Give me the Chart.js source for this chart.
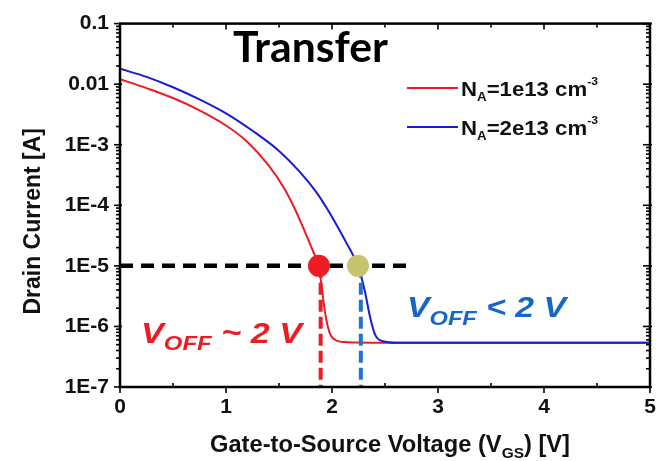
<!DOCTYPE html>
<html>
<head>
<meta charset="utf-8">
<script src="https://cdn.jsdelivr.net/npm/chart.js@4.4.1/dist/chart.umd.min.js"></script>
<style>
  html, body { margin: 0; padding: 0; background: #fff; }
  #wrap { width: 664px; height: 461px; position: relative; }
</style>
</head>
<body>
<div id="wrap"><canvas id="c" width="664" height="461"></canvas></div>
<script>
// Transfer characteristics: drain current vs gate-to-source voltage
const vgsLow  = [0, 0.25, 0.5, 0.75, 1.0, 1.2, 1.4, 1.55, 1.65, 1.72, 1.78, 1.83, 1.877, 1.90, 1.93, 1.96, 1.99, 2.04, 2.14, 2.5, 5];
const idLow   = [1.21e-2, 8.6e-3, 5.9e-3, 3.7e-3, 2.08e-3, 1.12e-3, 4.6e-4, 1.9e-4, 8.7e-5, 4.6e-5, 2.6e-5, 1.6e-5, 1.0e-5, 5.0e-6, 1.9e-6, 1.0e-6, 7.0e-7, 5.9e-7, 5.5e-7, 5.4e-7, 5.4e-7];

const vgsHigh = [0, 0.25, 0.5, 0.75, 1.0, 1.25, 1.5, 1.7, 1.85, 1.95, 2.05, 2.15, 2.2, 2.245, 2.31, 2.36, 2.41, 2.48, 2.6, 5];
const idHigh  = [1.8e-2, 1.32e-2, 8.9e-3, 5.6e-3, 3.3e-3, 1.7e-3, 7.9e-4, 3.5e-4, 1.67e-4, 9.0e-5, 4.5e-5, 2.16e-5, 1.48e-5, 1.0e-5, 3.8e-6, 1.41e-6, 7.1e-7, 5.7e-7, 5.4e-7, 5.4e-7];

// Off-state criterion and extracted off voltages
const criterionCurrent = 1e-5;
const criterionRange   = [0, 2.74];
const crossVgs         = [1.877, 2.245];
const voffDropVgs      = [1.893, 2.272];
const axisFloor        = 1e-7;

// Axis ticks
const xTicks       = [0, 1, 2, 3, 4, 5];
const xMinorTicks  = [0.5, 1.5, 2.5, 3.5, 4.5];
const yTickValues  = [1e-1, 1e-2, 1e-3, 1e-4, 1e-5, 1e-6, 1e-7];
const yTickLabels  = ['0.1', '0.01', '1E-3', '1E-4', '1E-5', '1E-6', '1E-7'];

const FONT = "'Liberation Sans', Arial, sans-serif";
const RED = '#ec1c24';
const BLUE = '#1a1ad6';
const DASH_BLUE = '#1f74cf';
const TEXT_BLUE = '#1768c6';
const OLIVE = '#c7c46c';

const pts = (xs, ys) => xs.map((v, i) => ({ x: v, y: ys[i] }));

// Draws a run of text pieces (with sub/superscripts) fitted to a target width
function drawRich(ctx, parts, x, baseline, width, color) {
  ctx.save();
  ctx.fillStyle = color;
  ctx.textBaseline = 'alphabetic';
  ctx.textAlign = 'left';
  let total = 0;
  for (const p of parts) { ctx.font = p.font; total += ctx.measureText(p.t).width + (p.gap || 0); }
  const sx = width ? width / total : 1;
  ctx.translate(x, baseline);
  ctx.scale(sx, 1);
  let cx = 0;
  for (const p of parts) {
    ctx.font = p.font;
    ctx.fillText(p.t, cx, p.dy || 0);
    cx += ctx.measureText(p.t).width + (p.gap || 0);
  }
  ctx.restore();
}

const decorations = {
  id: 'decorations',
  afterDraw(chart) {
    const { ctx, chartArea: a, scales: { x, y } } = chart;
    const seg = (x1, y1, x2, y2) => { ctx.beginPath(); ctx.moveTo(x1, y1); ctx.lineTo(x2, y2); ctx.stroke(); };
    ctx.save();
    ctx.strokeStyle = '#000';
    ctx.lineWidth = 1.6;
    for (const v of xTicks) {
      const px = x.getPixelForValue(v);
      seg(px, a.bottom, px, a.bottom + 6);
      seg(px, a.top, px, a.top + 6);
    }
    for (const v of xMinorTicks) {
      const px = x.getPixelForValue(v);
      seg(px, a.bottom, px, a.bottom - 4);
      seg(px, a.top, px, a.top + 4);
    }
    for (const v of yTickValues) {
      const py = y.getPixelForValue(v);
      seg(a.left - 6, py, a.left + 2, py);
      seg(a.right - 7, py, a.right + 2, py);
      if (v <= axisFloor) continue;
      for (let k = 2; k <= 9; k++) {
        const pm = y.getPixelForValue(v * k / 10);
        seg(a.left - 4, pm, a.left, pm);
        seg(a.right - 4, pm, a.right, pm);
      }
    }
    ctx.lineWidth = 2.5;
    ctx.strokeRect(a.left, a.top, a.right - a.left, a.bottom - a.top);
    ctx.restore();

    // axis titles
    const bold23 = 'bold 23px ' + FONT;
    const bold15 = 'bold 15px ' + FONT;
    ctx.save();
    ctx.fillStyle = '#111';
    ctx.font = bold23;
    ctx.translate(40, (a.top + a.bottom) / 2 + 16);
    ctx.rotate(-Math.PI / 2);
    ctx.textAlign = 'center';
    ctx.textBaseline = 'alphabetic';
    ctx.fillText('Drain Current [A]', 0, 0);
    ctx.restore();

    drawRich(ctx, [
      { t: 'Gate-to-Source Voltage (V', font: bold23 },
      { t: 'GS', font: bold15, dy: 6 },
      { t: ') [V]', font: bold23 }
    ], 210, 452, 360, '#111');

    // panel title
    drawRich(ctx, [{ t: 'Transfer', font: 'bold 42px Lato, ' + FONT }], 233, 62, 155, '#000');

    // legend
    const leg = [
      { color: RED, y: 88, label: '1e13' },
      { color: BLUE, y: 127, label: '2e13' }
    ];
    for (const l of leg) {
      ctx.save();
      ctx.strokeStyle = l.color;
      ctx.lineWidth = 2.2;
      seg(407, l.y, 458, l.y);
      ctx.restore();
      drawRich(ctx, [
        { t: 'N', font: 'bold 20px ' + FONT },
        { t: 'A', font: 'bold 12px ' + FONT, dy: 5 },
        { t: '=' + l.label + ' cm', font: 'bold 20px ' + FONT },
        { t: '-3', font: 'bold 11px ' + FONT, dy: -11 }
      ], 461, l.y + 8, 137, '#111');
    }

    // off-voltage annotations
    const bi29 = 'italic bold 30px ' + FONT;
    const bi20 = 'italic bold 21px ' + FONT;
    drawRich(ctx, [
      { t: 'V', font: bi29 },
      { t: 'OFF', font: bi20, dy: 7 },
      { t: ' ~ 2 V', font: bi29 }
    ], 141, 343, 161, RED);
    drawRich(ctx, [
      { t: 'V', font: bi29 },
      { t: 'OFF', font: bi20, dy: 8 },
      { t: ' < 2 V', font: bi29 }
    ], 407, 317, 159, TEXT_BLUE);
  }
};

const ctxEl = document.getElementById('c');
new Chart(ctxEl, {
  type: 'line',
  data: {
    datasets: [
      {
        label: 'criterion',
        data: pts(criterionRange, criterionRange.map(() => criterionCurrent)),
        borderColor: '#000', borderWidth: 4.5, borderDash: [13, 8],
        pointRadius: 0, order: 3
      },
      {
        label: 'VOFF 1e13',
        data: pts([voffDropVgs[0], voffDropVgs[0]], [criterionCurrent, axisFloor]),
        borderColor: RED, borderWidth: 4, borderDash: [12, 5],
        pointRadius: 0, order: 2
      },
      {
        label: 'VOFF 2e13',
        data: pts([voffDropVgs[1], voffDropVgs[1]], [criterionCurrent, axisFloor]),
        borderColor: DASH_BLUE, borderWidth: 4, borderDash: [12, 5],
        pointRadius: 0, order: 2
      },
      {
        label: 'NA=1e13 cm-3',
        data: pts(vgsLow, idLow),
        borderColor: RED, borderWidth: 2, pointRadius: 0,
        cubicInterpolationMode: 'monotone', order: 5
      },
      {
        label: 'NA=2e13 cm-3',
        data: pts(vgsHigh, idHigh),
        borderColor: BLUE, borderWidth: 2, pointRadius: 0,
        cubicInterpolationMode: 'monotone', order: 4
      },
      {
        label: 'crossings',
        data: pts(crossVgs, crossVgs.map(() => criterionCurrent)),
        showLine: false,
        pointRadius: 11,
        pointBackgroundColor: [RED, OLIVE],
        pointBorderColor: [RED, OLIVE],
        pointBorderWidth: 0,
        order: 0
      }
    ]
  },
  options: {
    responsive: false,
    animation: false,
    devicePixelRatio: 1,
    layout: { padding: { left: 0, right: 14, top: 16, bottom: 0 } },
    plugins: { legend: { display: false }, tooltip: { enabled: false } },
    scales: {
      x: {
        type: 'linear', min: 0, max: 5,
        afterBuildTicks: s => { s.ticks = xTicks.map(v => ({ value: v })); },
        afterFit: s => { s.height = 74; },
        grid: { display: false, drawTicks: false },
        border: { display: false },
        ticks: { color: '#111', font: { family: FONT, size: 21, weight: 'bold' }, padding: 8, maxRotation: 0 }
      },
      y: {
        type: 'logarithmic', min: 1e-7, max: 1e-1,
        afterBuildTicks: s => { s.ticks = yTickValues.map(v => ({ value: v })); },
        afterFit: s => { s.width = 120; },
        grid: { display: false, drawTicks: false },
        border: { display: false },
        ticks: {
          color: '#111', font: { family: FONT, size: 21, weight: 'bold' }, padding: 11,
          callback: v => yTickLabels[yTickValues.indexOf(v)]
        }
      }
    }
  },
  plugins: [decorations]
});
</script>
</body>
</html>
